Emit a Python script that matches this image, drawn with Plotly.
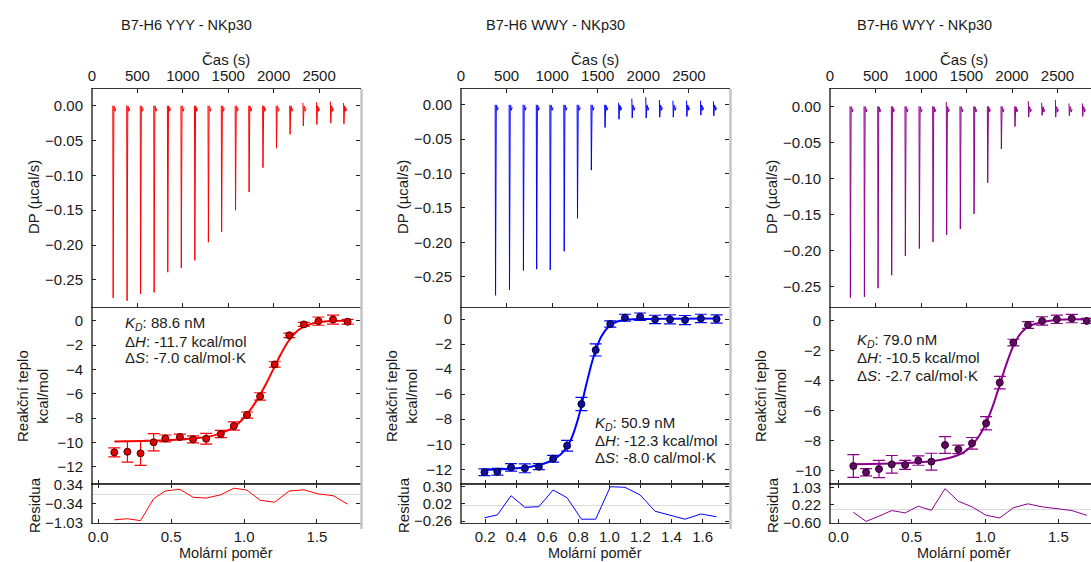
import plotly.graph_objects as go

# ---------------- data ----------------
titles = ["B7-H6 YYY - NKp30", "B7-H6 WWY - NKp30", "B7-H6 WYY - NKp30"]
colors = ["#ff0000", "#0000ff", "#8b008b"]
marker_fill = ["#e00000", "#10109a", "#5e0a5e"]
marker_edge = ["#4a0000", "#000040", "#300030"]

# thermograms: injection times (s), peak depth (ucal/s), small overshoot above baseline
inj_t1 = [229, 382, 531, 680, 830, 979, 1128, 1277, 1423, 1576, 1725, 1878, 2027, 2176, 2322, 2471, 2624, 2769]
peak1 = [-0.276, -0.280, -0.270, -0.268, -0.239, -0.233, -0.222, -0.196, -0.181, -0.150, -0.124, -0.089,
         -0.061, -0.041, -0.029, -0.027, -0.025, -0.026]
bump1 = [0, 0, 0, 0, 0, 0, 0, 0, 0, 0, 0, 0, 0, 0, 0.004, 0.005, 0.006, 0.004]

inj_t2 = [375, 528, 681, 826, 975, 1128, 1274, 1426, 1576, 1729, 1874, 2027, 2176, 2325, 2474, 2627, 2769]
peak2 = [-0.277, -0.269, -0.241, -0.239, -0.240, -0.213, -0.165, -0.095, -0.033, -0.021, -0.019, -0.019,
         -0.018, -0.018, -0.017, -0.015, -0.016]
bump2 = [0, 0, 0, 0, 0, 0, 0, 0, 0, 0.003, 0.009, 0.011, 0.007, 0.006, 0.006, 0.006, 0.005]

inj_t3 = [220, 374, 524, 674, 824, 978, 1128, 1278, 1428, 1579, 1729, 1879, 2029, 2179, 2326, 2476, 2626, 2773]
peak3 = [-0.265, -0.264, -0.252, -0.234, -0.207, -0.197, -0.188, -0.178, -0.170, -0.149, -0.106, -0.059,
         -0.028, -0.015, -0.0125, -0.015, -0.013, -0.014]
bump3 = [0, 0, 0, 0, 0, 0, 0, 0.006, 0, 0, 0, 0, 0, 0.007, 0.005, 0.009, 0.004, 0.004]

# isotherms: molar ratio, heat (kcal/mol), error
ratio1 = [0.11, 0.20, 0.29, 0.38, 0.46, 0.56, 0.65, 0.74, 0.84, 0.93, 1.02, 1.11, 1.21, 1.31, 1.41, 1.51, 1.61, 1.71]
heat1 = [-10.82, -10.77, -10.90, -9.99, -9.67, -9.55, -9.75, -9.70, -9.31, -8.65, -7.75, -6.22, -3.59, -1.20,
         -0.30, -0.03, 0.10, -0.08]
err1 = [0.37, 0.85, 0.99, 0.71, 0.28, 0.23, 0.29, 0.44, 0.30, 0.34, 0.25, 0.30, 0.22, 0.18, 0.16, 0.34, 0.37, 0.20]
fit_x1 = [0.11, 0.3, 0.5, 0.7, 0.8, 0.9, 0.95, 1.0, 1.05, 1.1, 1.15, 1.2, 1.25, 1.3, 1.35, 1.4, 1.45, 1.5, 1.6, 1.71]
fit_y1 = [-9.92, -9.88, -9.80, -9.62, -9.40, -8.95, -8.55, -7.95, -7.20, -6.30, -5.20, -4.00, -2.80, -1.75,
          -1.00, -0.55, -0.30, -0.15, -0.03, 0.0]
resid1 = [-0.93, -0.89, -0.96, -0.16, 0.12, 0.18, -0.11, -0.14, -0.02, 0.22, 0.15, -0.22, -0.29, 0.12, 0.16,
          0.01, -0.05, -0.36]

ratio2 = [0.196, 0.279, 0.367, 0.456, 0.546, 0.638, 0.728, 0.820, 0.912, 1.006, 1.100, 1.198, 1.294, 1.390,
          1.487, 1.589, 1.690]
heat2 = [-12.23, -12.19, -11.84, -11.92, -11.79, -11.15, -10.11, -6.79, -2.47, -0.40, 0.11, 0.19, -0.03, -0.03,
         -0.08, 0.05, 0.0]
err2 = [0.27, 0.27, 0.30, 0.35, 0.24, 0.27, 0.43, 0.53, 0.48, 0.25, 0.27, 0.29, 0.33, 0.36, 0.36, 0.33, 0.33]
fit_x2 = [0.196, 0.3, 0.4, 0.5, 0.6, 0.65, 0.7, 0.75, 0.8, 0.85, 0.9, 0.95, 1.0, 1.05, 1.1, 1.2, 1.4, 1.69]
fit_y2 = [-12.05, -12.0, -11.92, -11.78, -11.45, -11.15, -10.65, -9.7, -7.9, -5.3, -2.95, -1.35, -0.55, -0.2,
          -0.07, 0.0, 0.03, 0.04]
resid2 = [-0.206, -0.16, 0.153, -0.036, -0.026, 0.246, 0.12, -0.23, -0.23, 0.30, 0.29, 0.165, -0.10, -0.17,
          -0.23, -0.145, -0.19]

ratio3 = [0.102, 0.189, 0.277, 0.364, 0.455, 0.545, 0.634, 0.727, 0.818, 0.911, 1.007, 1.100, 1.193, 1.293,
          1.389, 1.489, 1.591, 1.693]
heat3 = [-9.67, -10.09, -9.87, -9.56, -9.60, -9.31, -9.38, -8.27, -8.56, -8.16, -6.82, -4.11, -1.44, -0.27,
         0.0, 0.11, 0.16, 0.0]
err3 = [0.76, 0.24, 0.57, 0.59, 0.30, 0.31, 0.56, 0.56, 0.28, 0.39, 0.44, 0.42, 0.22, 0.22, 0.28, 0.28, 0.28, 0.17]
fit_x3 = [0.102, 0.3, 0.5, 0.6, 0.7, 0.8, 0.85, 0.9, 0.95, 1.0, 1.05, 1.1, 1.15, 1.2, 1.25, 1.3, 1.4, 1.5, 1.6, 1.693]
fit_y3 = [-9.55, -9.52, -9.45, -9.38, -9.25, -9.0, -8.78, -8.4, -7.8, -6.95, -5.75, -4.25, -2.75, -1.5, -0.75,
          -0.35, -0.05, 0.08, 0.12, 0.1]
resid3 = [-0.12, -0.54, -0.30, -0.04, -0.15, 0.16, -0.03, 0.97, 0.39, 0.13, -0.26, -0.38, 0.09, 0.27, 0.13,
          0.04, -0.04, -0.26]

stats = [
    ["88.6 nM", "-11.7 kcal/mol", "-7.0 cal/mol\u00b7K"],
    ["50.9 nM", "-12.3 kcal/mol", "-8.0 cal/mol\u00b7K"],
    ["79.0 nM", "-10.5 kcal/mol", "-2.7 cal/mol\u00b7K"],
]

time_ticks = [0, 500, 1000, 1500, 2000, 2500]
dp_ticks = [0.0, -0.05, -0.10, -0.15, -0.20, -0.25]
heat_ticks = [[0, -2, -4, -6, -8, -10, -12], [0, -2, -4, -6, -8, -10, -12], [0, -2, -4, -6, -8, -10]]
ratio_ticks = [[0.0, 0.5, 1.0, 1.5], [0.2, 0.4, 0.6, 0.8, 1.0, 1.2, 1.4, 1.6], [0.0, 0.5, 1.0, 1.5]]
resid_ticks = [[0.34, -0.34, -1.03], [0.30, 0.02, -0.26], [1.03, 0.22, -0.60]]
resid_ticktext = [["0.34", "\u22120.34", "\u22121.03"], ["0.30", "0.02", "\u22120.26"],
                  ["1.03", "0.22", "\u22120.60"]]

# ---------------- layout geometry ----------------
W, H = 1091, 562
panel_x = [(92, 360), (461, 729), (830, 1091)]
y_top, y_mid, y_low, y_bot = 89, 307, 484, 523
time_range = [[0, 2950], [0, 2940], [0, 2868]]
dp_range = [[-0.289, 0.024], [-0.294, 0.023], [-0.278, 0.024]]
heat_range = [[-13.42, 1.13], [-13.17, 0.96], [-10.87, 0.93]]
ratio_range = [[-0.043, 1.795], [0.045, 1.77], [-0.057, 1.722]]
resid_range = [[-1.045, 0.372], [-0.292, 0.344], [-0.615, 1.185]]

FONT = "Liberation Sans, Arial, sans-serif"
TXT = "#1a1a1a"


def px(x):
    return x / W


def py(y):
    return 1 - y / H


thermo = [(inj_t1, peak1, bump1), (inj_t2, peak2, bump2), (inj_t3, peak3, bump3)]
iso = [(ratio1, heat1, err1, fit_x1, fit_y1, resid1),
       (ratio2, heat2, err2, fit_x2, fit_y2, resid2),
       (ratio3, heat3, err3, fit_x3, fit_y3, resid3)]

fig = go.Figure()
layout = {}
shapes = []
annotations = []


def sfx(n):
    return "" if n == 1 else str(n)


for p in range(3):
    a1, a2, a3 = 3 * p + 1, 3 * p + 2, 3 * p + 3
    xl, xr = panel_x[p]
    dom_x = [px(xl), px(xr)]
    col = colors[p]
    mirror_y = "ticks" if p < 2 else False

    # thermogram trace
    ts, pk, bp = thermo[p]
    xs, ys = [], []
    for t, v, b in zip(ts, pk, bp):
        xs += [t, t + 4, t + 12, None, t + 18, t + 24, t + 34, None]
        ys += [b, v, 0.0, None, -0.001, -0.008, -0.004, None]
    fig.add_trace(go.Scatter(x=xs, y=ys, mode="lines", line=dict(color=col, width=1),
                             xaxis="x" + sfx(a1), yaxis="y" + sfx(a1), showlegend=False,
                             connectgaps=False, hoverinfo="skip"))

    rx, hy, er, fx, fy, rs = iso[p]
    fig.add_trace(go.Scatter(x=fx, y=fy, mode="lines", line=dict(color=col, width=2, shape="spline"),
                             xaxis="x" + sfx(a2), yaxis="y" + sfx(a2), showlegend=False))
    fig.add_trace(go.Scatter(x=rx, y=hy, mode="markers",
                             marker=dict(size=7, color=marker_fill[p], line=dict(color=marker_edge[p], width=1)),
                             error_y=dict(type="data", array=er, visible=True, color=col, thickness=1.2, width=6),
                             xaxis="x" + sfx(a2), yaxis="y" + sfx(a2), showlegend=False))
    fig.add_trace(go.Scatter(x=rx, y=rs, mode="lines", line=dict(color=col, width=1),
                             xaxis="x" + sfx(a3), yaxis="y" + sfx(a3), showlegend=False))

    common = dict(tickfont=dict(family=FONT, size=15, color=TXT), ticks="inside", ticklen=4,
                  tickcolor="#222", showgrid=False, automargin=False)

    # thermogram axes
    layout["xaxis" + sfx(a1)] = dict(domain=dom_x, range=time_range[p], side="top", anchor="y" + sfx(a1),
                                     tickvals=time_ticks, showline=True, linecolor="#333", mirror="ticks",
                                     ticklabelstandoff=1, zeroline=False, **common)
    layout["yaxis" + sfx(a1)] = dict(domain=[py(y_mid), py(y_top)], range=dp_range[p], anchor="x" + sfx(a1),
                                     tickvals=dp_ticks, tickformat=".2f", showline=True,
                                     linecolor="rgba(0,0,0,0)", mirror=mirror_y, ticklabelstandoff=5,
                                     zeroline=False, **common)
    # isotherm axes
    layout["xaxis" + sfx(a2)] = dict(domain=dom_x, range=ratio_range[p], anchor="y" + sfx(a2),
                                     tickvals=ratio_ticks[p], showticklabels=False, showline=True,
                                     linecolor="#444", zeroline=False, **common)
    layout["yaxis" + sfx(a2)] = dict(domain=[py(y_low), py(y_mid)], range=heat_range[p], anchor="x" + sfx(a2),
                                     tickvals=heat_ticks[p], showline=True, linecolor="rgba(0,0,0,0)",
                                     mirror=mirror_y, ticklabelstandoff=5, zeroline=False, **common)
    # residual axes
    layout["xaxis" + sfx(a3)] = dict(domain=dom_x, range=ratio_range[p], anchor="y" + sfx(a3),
                                     tickvals=ratio_ticks[p], tickformat=".1f", showline=True,
                                     linecolor="#333", mirror="ticks", ticklabelstandoff=0, zeroline=False,
                                     **common)
    layout["yaxis" + sfx(a3)] = dict(domain=[py(y_bot), py(y_low)], range=resid_range[p], anchor="x" + sfx(a3),
                                     tickvals=resid_ticks[p], ticktext=resid_ticktext[p], showline=True,
                                     linecolor="rgba(0,0,0,0)", mirror=mirror_y, ticklabelstandoff=5,
                                     zeroline=True, zerolinecolor="#dcdcdc", zerolinewidth=1, **common)

    # spines
    shapes.append(dict(type="line", xref="paper", yref="paper", x0=px(xl), x1=px(xl),
                       y0=py(y_bot), y1=py(y_top), line=dict(color="#111", width=1.3)))
    if p < 2:
        shapes.append(dict(type="line", xref="paper", yref="paper", x0=px(xr + 1.5), x1=px(xr + 1.5),
                           y0=py(y_bot + 6), y1=py(y_top), line=dict(color="#c4c4c4", width=2.5)))

    # text
    off = xl - 92
    cx = off + 226
    annotations += [
        dict(text=titles[p], x=px(off + 186), y=py(25), font=dict(size=14.5)),
        dict(text="\u010cas (s)", x=px(cx), y=py(60), font=dict(size=15)),
        dict(text="DP (\u00b5cal/s)", x=px(off + 33), y=py(197), textangle=-90, font=dict(size=15)),
        dict(text="Reak\u010dn\u00ed teplo<br>kcal/mol", x=px(off + 32), y=py(396), textangle=-90,
             font=dict(size=15)),
        dict(text="Residua", x=px(off + 34), y=py(505), textangle=-90, font=dict(size=15)),
        dict(text="Mol\u00e1rn\u00ed pom\u011br", x=px(cx), y=py(553), font=dict(size=14.5)),
    ]
    stat_pos = [(123, [323, 341, 358]), (593, [423, 440, 457]), (855, [340, 358, 375])][p]
    lbls = ["<i>K</i><sub><i>D</i></sub>: ", "\u0394<i>H</i>: ", "\u0394<i>S</i>: "]
    for k in range(3):
        annotations.append(dict(text=lbls[k] + stats[p][k], x=px(stat_pos[0]), y=py(stat_pos[1][k]),
                                xanchor="left", font=dict(size=15)))

for a in annotations:
    a.setdefault("xref", "paper")
    a.setdefault("yref", "paper")
    a.setdefault("showarrow", False)
    a.setdefault("xanchor", "center")
    a.setdefault("yanchor", "middle")
    a["font"] = dict(family=FONT, color=TXT, **a["font"])

fig.update_layout(width=W, height=H, margin=dict(l=0, r=0, t=0, b=0, autoexpand=False), paper_bgcolor="white",
                  plot_bgcolor="white", shapes=shapes, annotations=annotations,
                  font=dict(family=FONT, color=TXT), **layout)

fig.write_html("out.html", config={"displayModeBar": False},
               post_script="document.body.style.margin='0px';document.body.style.overflow='hidden';")
